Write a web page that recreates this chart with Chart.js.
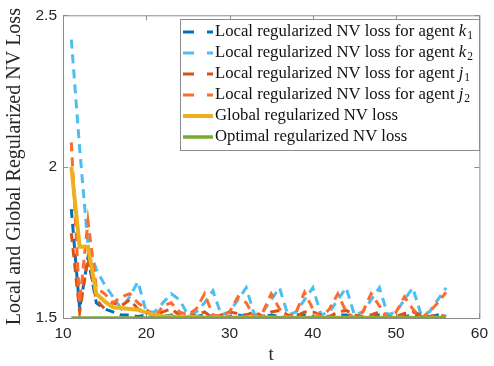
<!DOCTYPE html>
<html>
<head>
<meta charset="utf-8">
<script src="https://cdn.jsdelivr.net/npm/chart.js@4"></script>
<style>
  html, body { margin: 0; padding: 0; background: #fff; }
  #wrap { width: 494px; height: 366px; }
</style>
</head>
<body>
<div id="wrap"><canvas id="lossChart" width="494" height="366"></canvas></div>
<script>
// iterations t = 11 .. 56
var tValues = [11,12,13,14,15,16,17,18,19,20,21,22,23,24,25,26,27,28,29,30,31,32,33,34,35,36,37,38,39,40,41,42,43,44,45,46,47,48,49,50,51,52,53,54,55,56];

var lossK1 = [1.86,1.53,1.70,1.55,1.53,1.52,1.51,1.51,1.505,1.51,1.505,1.505,1.51,1.505,1.50,1.505,1.51,1.505,1.50,1.505,1.51,1.505,1.50,1.505,1.51,1.505,1.50,1.51,1.51,1.505,1.50,1.505,1.51,1.51,1.505,1.50,1.505,1.51,1.505,1.50,1.505,1.51,1.505,1.505,1.51,1.505];
var lossK2 = [2.42,2.06,1.74,1.66,1.61,1.57,1.53,1.57,1.62,1.52,1.52,1.55,1.58,1.56,1.51,1.52,1.55,1.59,1.51,1.52,1.56,1.60,1.51,1.52,1.56,1.60,1.51,1.52,1.56,1.60,1.51,1.52,1.56,1.60,1.51,1.52,1.56,1.60,1.51,1.52,1.56,1.60,1.51,1.52,1.56,1.60];
var lossJ1 = [1.78,1.52,1.70,1.56,1.53,1.55,1.54,1.56,1.53,1.52,1.51,1.52,1.53,1.51,1.505,1.51,1.52,1.50,1.51,1.52,1.515,1.51,1.52,1.505,1.52,1.525,1.51,1.505,1.52,1.52,1.51,1.505,1.52,1.525,1.51,1.505,1.51,1.52,1.505,1.505,1.515,1.52,1.51,1.505,1.51,1.505];
var lossJ2 = [2.08,1.55,1.82,1.60,1.58,1.55,1.57,1.58,1.55,1.53,1.50,1.54,1.55,1.52,1.51,1.53,1.58,1.51,1.505,1.52,1.57,1.55,1.50,1.52,1.58,1.53,1.50,1.52,1.585,1.53,1.50,1.53,1.58,1.52,1.50,1.52,1.58,1.54,1.50,1.52,1.57,1.53,1.50,1.52,1.55,1.585];
var lossGlobal = [2.00,1.735,1.735,1.58,1.555,1.535,1.533,1.53,1.527,1.518,1.51,1.506,1.505,1.504,1.503,1.503,1.502,1.502,1.502,1.502,1.502,1.502,1.502,1.502,1.502,1.501,1.501,1.501,1.501,1.501,1.501,1.501,1.501,1.501,1.501,1.501,1.501,1.501,1.501,1.501,1.501,1.501,1.501,1.501,1.501,1.501];
var lossOptimal = [1.5,1.5,1.5,1.5,1.5,1.5,1.5,1.5,1.5,1.5,1.5,1.5,1.5,1.5,1.5,1.5,1.5,1.5,1.5,1.5,1.5,1.5,1.5,1.5,1.5,1.5,1.5,1.5,1.5,1.5,1.5,1.5,1.5,1.5,1.5,1.5,1.5,1.5,1.5,1.5,1.5,1.5,1.5,1.5,1.5,1.5];

var xTicks = [10, 20, 30, 40, 50, 60];
var yTicks = [1.5, 2, 2.5];

function pts(vals) {
    return tValues.map(function (t, i) { return { x: t, y: vals[i] }; });
}

var DASH = [9, 6];
var datasets = [
    { label: "k1", data: pts(lossK1), borderColor: "#0072BD", borderWidth: 3, borderDash: DASH, order: 5 },
    { label: "k2", data: pts(lossK2), borderColor: "#4DBEEE", borderWidth: 3, borderDash: DASH, order: 4 },
    { label: "j1", data: pts(lossJ1), borderColor: "#D95319", borderWidth: 3, borderDash: DASH, order: 3 },
    { label: "j2", data: pts(lossJ2), borderColor: "#FF6B2C", borderWidth: 3, borderDash: DASH, order: 2 },
    { label: "Global regularized NV loss", data: pts(lossGlobal), borderColor: "#EDB120", borderWidth: 4, order: 1 },
    { label: "Optimal regularized NV loss", data: pts(lossOptimal), borderColor: "#77AC30", borderWidth: 3.5, order: 0 }
];
datasets.forEach(function (d) { d.pointRadius = 0; d.fill = false; d.tension = 0; });

var legendItems = [
    { pre: "Local regularized NV loss for agent ", v: "k", sub: "1" },
    { pre: "Local regularized NV loss for agent ", v: "k", sub: "2" },
    { pre: "Local regularized NV loss for agent ", v: "j", sub: "1" },
    { pre: "Local regularized NV loss for agent ", v: "j", sub: "2" },
    { pre: "Global regularized NV loss" },
    { pre: "Optimal regularized NV loss" }
];

var SERIF = "'Liberation Serif', 'DejaVu Serif', serif";

// box, inward ticks and the legend, drawn like a MATLAB figure
var matlabPlugin = {
    id: "matlabBox",
    afterDraw: function (chart) {
        var ctx = chart.ctx, a = chart.chartArea;
        var xs = chart.scales.x, ys = chart.scales.y;
        ctx.save();
        ctx.strokeStyle = "#8c8c8c";
        ctx.lineWidth = 1;
        ctx.setLineDash([]);
        ctx.strokeRect(a.left + 0.5, a.top + 0.5, a.right - a.left, a.bottom - a.top);
        ctx.beginPath();
        xTicks.forEach(function (v) {
            var px = Math.round(xs.getPixelForValue(v)) + 0.5;
            ctx.moveTo(px, a.bottom); ctx.lineTo(px, a.bottom - 5);
            ctx.moveTo(px, a.top); ctx.lineTo(px, a.top + 5);
        });
        yTicks.forEach(function (v) {
            var py = Math.round(ys.getPixelForValue(v)) + 0.5;
            ctx.moveTo(a.left, py); ctx.lineTo(a.left + 5, py);
            ctx.moveTo(a.right, py); ctx.lineTo(a.right - 5, py);
        });
        ctx.stroke();

        // legend
        var lx = 180, ly = 19, lw = 299, lh = 131;
        ctx.fillStyle = "#fff";
        ctx.fillRect(lx, ly, lw, lh);
        ctx.strokeStyle = "#8c8c8c";
        ctx.strokeRect(lx + 0.5, ly + 0.5, lw, lh);
        legendItems.forEach(function (it, i) {
            var ds = datasets[i];
            var y = 32 + i * 21;
            ctx.strokeStyle = ds.borderColor;
            ctx.lineWidth = ds.borderWidth;
            ctx.setLineDash([]);
            ctx.beginPath();
            if (ds.borderDash) {
                ctx.moveTo(183, y); ctx.lineTo(194, y);
                ctx.moveTo(207, y); ctx.lineTo(213, y);
            } else {
                ctx.moveTo(183, y); ctx.lineTo(213, y);
            }
            ctx.stroke();
            ctx.fillStyle = "#111";
            ctx.textBaseline = "middle";
            ctx.textAlign = "left";
            ctx.font = "16.7px " + SERIF;
            ctx.fillText(it.pre, 215, y);
            if (it.v) {
                var w = ctx.measureText(it.pre).width;
                ctx.font = "italic 16.7px " + SERIF;
                ctx.fillText(it.v, 215 + w, y);
                var w2 = ctx.measureText(it.v).width;
                ctx.font = "11.5px " + SERIF;
                ctx.fillText(it.sub, 215 + w + w2 + 1, y + 4);
            }
        });
        ctx.restore();
    }
};

var ctx = document.getElementById("lossChart").getContext("2d");
new Chart(ctx, {
    type: "line",
    data: { datasets: datasets },
    options: {
        responsive: false,
        animation: false,
        events: [],
        layout: { padding: { top: 14, right: 6, left: 0, bottom: 0 } },
        plugins: { legend: { display: false }, tooltip: { enabled: false } },
        scales: {
            x: {
                type: "linear",
                min: 10, max: 60,
                afterBuildTicks: function (s) { s.ticks = xTicks.map(function (v) { return { value: v }; }); },
                afterFit: function (s) { s.height = 48; },
                grid: { display: false, drawTicks: false },
                border: { display: false },
                ticks: { color: "#262626", padding: 6, maxRotation: 0, font: { family: "'Liberation Sans', Arial, sans-serif", size: 15.5 } },
                title: { display: true, text: "t", color: "#262626", padding: { top: 0, bottom: 0 }, font: { family: SERIF, size: 19 } }
            },
            y: {
                min: 1.5, max: 2.5,
                afterBuildTicks: function (s) { s.ticks = yTicks.map(function (v) { return { value: v }; }); },
                afterFit: function (s) { s.width = 63; },
                grid: { display: false, drawTicks: false },
                border: { display: false },
                ticks: {
                    color: "#262626", padding: 6,
                    font: { family: "'Liberation Sans', Arial, sans-serif", size: 15.5 },
                    callback: function (v) { return String(v); }
                },
                title: { display: true, text: "Local and Global Regularized NV Loss", color: "#262626", padding: { top: 3, bottom: 0 }, font: { family: SERIF, size: 20 } }
            }
        }
    },
    plugins: [matlabPlugin]
});
</script>
</body>
</html>
